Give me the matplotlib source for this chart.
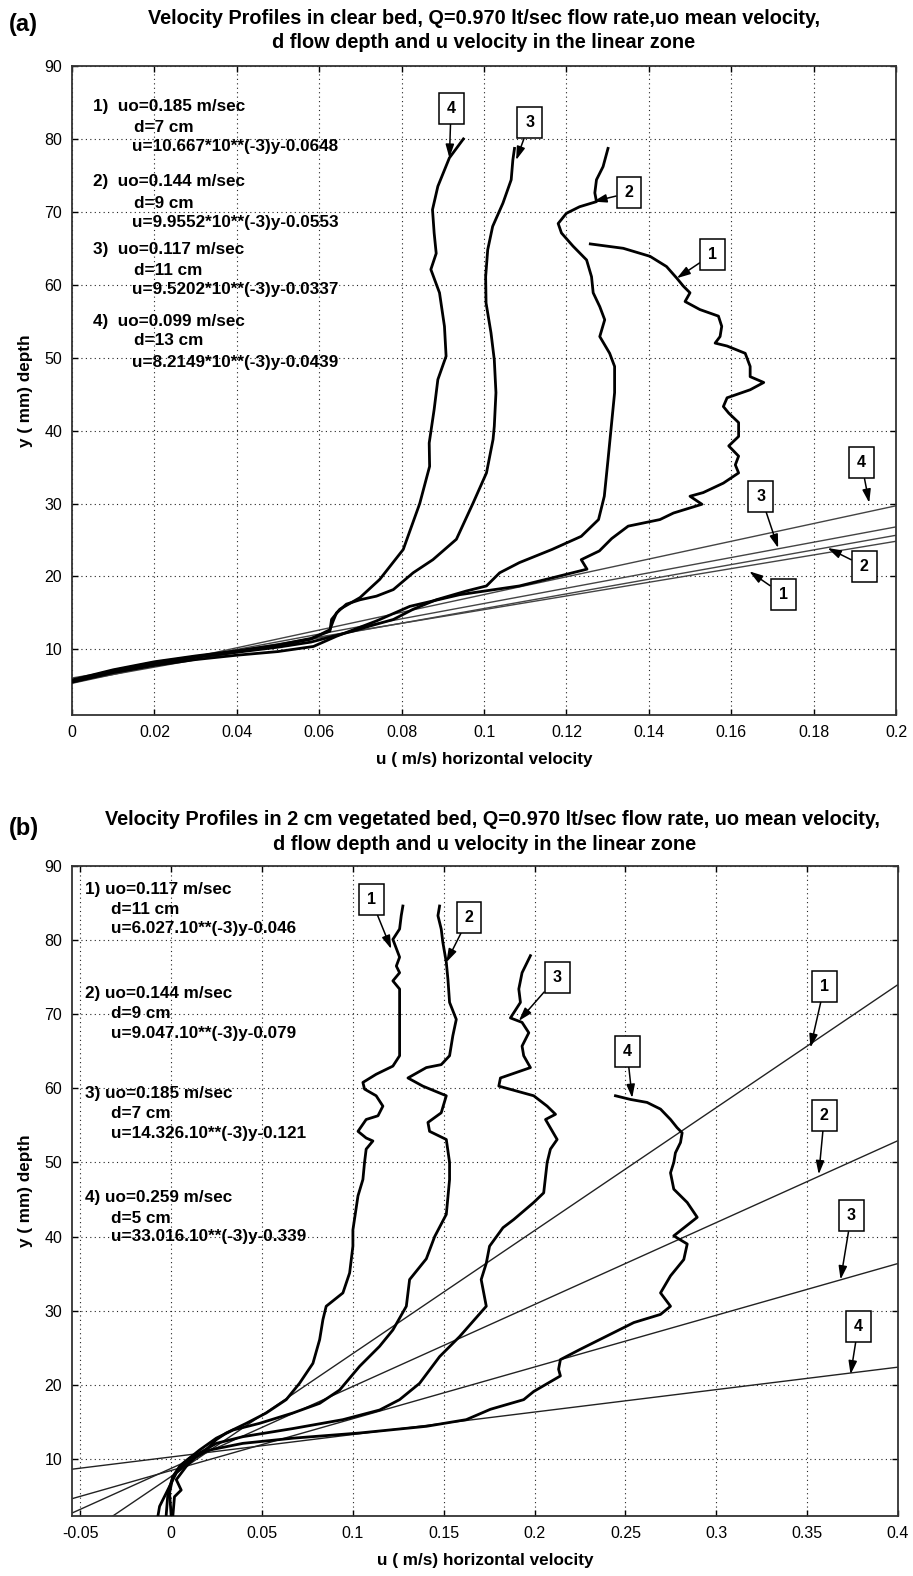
import numpy as np
import matplotlib
matplotlib.use("Agg")
import matplotlib.pyplot as plt

plt.rcParams['font.family'] = ['Liberation Sans', 'DejaVu Sans']

W, H = 913, 1576

# ---- panel (a): clear bed ----
a_u1 = [0.000, 0.010, 0.020, 0.030, 0.040, 0.050, 0.0586, 0.0642, 0.0739, 0.082, 0.0941, 0.1086, 0.1165,
        0.125, 0.1236, 0.128, 0.131, 0.135, 0.1427, 0.146, 0.1529, 0.150, 0.1532, 0.1581, 0.1618, 0.161,
        0.1618, 0.1594, 0.1618, 0.1618, 0.1594, 0.1581, 0.159, 0.1646, 0.1679, 0.1646, 0.1646, 0.1634,
        0.159, 0.1561, 0.1573, 0.1577, 0.1569, 0.1524, 0.1488, 0.150, 0.1484, 0.1468, 0.1443, 0.1403,
        0.1338, 0.1258]
a_y1 = [5.5, 6.8, 7.8, 8.6, 9.2, 9.7, 10.4, 11.8, 13.9, 15.9, 17.5, 18.7, 19.8,
        21.0, 22.3, 23.5, 25.2, 26.9, 27.8, 28.7, 29.9, 31.0, 31.5, 32.8, 34.2, 35.3,
        36.5, 37.9, 39.2, 41.1, 42.4, 43.3, 44.5, 45.6, 46.6, 47.4, 48.8, 50.6,
        51.6, 52.0, 52.9, 54.3, 55.7, 56.6, 57.7, 58.9, 59.8, 60.9, 62.5, 63.9,
        65.0, 65.6]

a_u2 = [0.000, 0.010, 0.020, 0.030, 0.040, 0.050, 0.058, 0.0634, 0.0682, 0.0723, 0.078, 0.0828, 0.0884,
        0.0957, 0.1006, 0.1038, 0.1086, 0.1165, 0.1236, 0.1278, 0.1292, 0.1301, 0.1309, 0.1317, 0.1317,
        0.1305, 0.1281, 0.1293, 0.1281, 0.1265, 0.1261, 0.1249, 0.1216, 0.1188, 0.118, 0.120, 0.1232,
        0.1273, 0.1269, 0.1273, 0.1289, 0.1301]
a_y2 = [5.6, 7.0, 8.1, 8.9, 9.6, 10.3, 11.0, 11.8, 12.5, 13.2, 14.1, 15.5, 16.8,
        18.0, 18.7, 20.5, 21.9, 23.7, 25.5, 27.8, 31.0, 36.0, 40.6, 45.2, 48.8,
        50.6, 52.9, 55.2, 57.0, 58.9, 61.1, 63.4, 65.3, 67.1, 68.4, 69.8, 70.7,
        71.4, 72.6, 74.4, 76.2, 78.7]

a_u3 = [0.000, 0.010, 0.020, 0.030, 0.040, 0.050, 0.058, 0.0626, 0.0634, 0.0642, 0.0666, 0.0699, 0.0739,
        0.078, 0.0828, 0.0876, 0.0933, 0.0973, 0.1006, 0.1022, 0.1025, 0.1029, 0.1025, 0.1017, 0.1005,
        0.1004, 0.1009, 0.1021, 0.1046, 0.1066, 0.107, 0.1074]
a_y3 = [5.7, 7.1, 8.2, 9.0, 9.7, 10.5, 11.4, 12.7, 13.9, 15.0, 16.2, 16.8, 17.3,
        18.2, 20.5, 22.3, 25.1, 30.0, 34.2, 38.8, 40.6, 45.2, 49.7, 53.4, 57.5,
        61.1, 64.8, 68.0, 71.2, 74.4, 77.1, 78.7]

a_u4 = [0.000, 0.010, 0.020, 0.030, 0.040, 0.050, 0.058, 0.0626, 0.063, 0.065, 0.0699, 0.0747, 0.0804,
        0.0844, 0.0868, 0.0867, 0.0879, 0.0888, 0.0908, 0.0904, 0.0892, 0.0871, 0.0884, 0.0879, 0.0875,
        0.0888, 0.0916, 0.095]
a_y4 = [5.8, 7.2, 8.3, 9.1, 9.8, 10.6, 11.5, 12.5, 14.1, 15.5, 17.1, 19.6, 23.7,
        30.0, 35.1, 38.3, 42.9, 47.0, 50.2, 54.3, 58.9, 62.1, 64.3, 67.1, 70.3,
        73.5, 77.4, 80.0]

# linear fits u = a*y - b (line 3 intercept)
a_slope = [10.667e-3, 9.9552e-3, 9.5202e-3, 8.2149e-3]
a_icpt = [0.0648, 0.0553, 0.0551, 0.0439]

a_notes = [["1)  uo=0.185 m/sec", "d=7 cm", "u=10.667*10**(-3)y-0.0648"],
           ["2)  uo=0.144 m/sec", "d=9 cm", "u=9.9552*10**(-3)y-0.0553"],
           ["3)  uo=0.117 m/sec", "d=11 cm", "u=9.5202*10**(-3)y-0.0337"],
           ["4)  uo=0.099 m/sec", "d=13 cm", "u=8.2149*10**(-3)y-0.0439"]]
a_note_y = [[84.4, 81.6, 78.9], [74.1, 71.2, 68.6], [64.8, 62.0, 59.3], [55.0, 52.3, 49.4]]

# ---- panel (b): 2 cm vegetated bed ----
b_u1 = [-0.0073, -0.0064, -0.0009, 0.0028, 0.0083, 0.0174, 0.0248, 0.0303, 0.0413, 0.0523, 0.0633, 0.0706,
        0.078, 0.0817, 0.0835, 0.0853, 0.0945, 0.0982, 0.1000, 0.1000, 0.1028, 0.1055, 0.1064, 0.1073,
        0.1110, 0.1073, 0.1028, 0.1073, 0.1138, 0.1165, 0.1128, 0.1064, 0.1055, 0.1128, 0.122, 0.1257,
        0.1257, 0.1257, 0.1257, 0.122, 0.1257, 0.1239, 0.1257, 0.122, 0.1257, 0.1266, 0.1275]
b_y1 = [2.3, 3.6, 6.3, 8.1, 9.4, 10.8, 12.6, 13.5, 14.8, 16.2, 18.0, 20.2,
        22.9, 26.1, 28.8, 30.6, 32.4, 35.1, 38.7, 40.9, 45.5, 47.7, 50.0, 51.8,
        52.9, 53.3, 54.2, 55.8, 56.3, 57.6, 59.0, 59.9, 60.8, 61.9, 63.0, 64.4,
        68.0, 71.6, 73.4, 74.5, 75.6, 76.5, 77.7, 80.1, 81.5, 83.3, 84.6]

b_u2 = [-0.0028, -0.0018, 0.0009, 0.0064, 0.0156, 0.0248, 0.034, 0.0486, 0.067, 0.0817, 0.0927, 0.1037,
        0.1147, 0.122, 0.1294, 0.1312, 0.1404, 0.1450, 0.1514, 0.1532, 0.1532, 0.1514, 0.1422, 0.1413,
        0.1486, 0.1514, 0.1385, 0.1303, 0.1404, 0.1486, 0.1532, 0.155, 0.1569, 0.1532, 0.1523, 0.1514,
        0.1495, 0.1486, 0.1468, 0.1477]
b_y2 = [2.3, 5.4, 7.6, 9.4, 11.2, 12.8, 13.9, 14.8, 16.2, 17.5, 19.3, 22.5,
        25.2, 27.4, 30.6, 34.2, 37.0, 40.0, 43.0, 47.7, 50.0, 53.1, 54.2, 55.4,
        56.7, 59.0, 60.3, 61.4, 62.8, 63.2, 64.4, 67.1, 69.3, 71.6, 74.7, 77.0,
        79.7, 81.5, 83.3, 84.6]

b_u3 = [0.0009, 0.0018, 0.0055, 0.0028, 0.0083, 0.0156, 0.0248, 0.0394, 0.067, 0.0945, 0.1147, 0.1257,
        0.1367, 0.1477, 0.1587, 0.1734, 0.1706, 0.1734, 0.1752, 0.1826, 0.1885, 0.1995, 0.205, 0.2069,
        0.2087, 0.2124, 0.206, 0.2115, 0.2069, 0.1995, 0.1803, 0.1812, 0.1977, 0.194, 0.1931, 0.1968,
        0.1931, 0.1867, 0.1922, 0.1913, 0.1931, 0.1977]
b_y3 = [2.3, 4.9, 5.8, 7.2, 9.0, 10.8, 12.1, 13.0, 14.1, 15.3, 16.6, 18.0,
        20.2, 23.8, 26.5, 30.6, 34.2, 36.4, 38.7, 41.2, 42.3, 44.6, 45.9, 50.0,
        51.8, 53.1, 55.8, 56.5, 57.6, 59.0, 60.3, 61.4, 62.8, 64.4, 65.7, 67.5,
        68.9, 69.5, 71.6, 73.4, 75.6, 77.9]

b_u4 = [0.0, -0.0009, 0.0009, 0.0046, 0.0101, 0.0211, 0.0394, 0.067, 0.1037, 0.1404, 0.1624, 0.1757,
        0.194, 0.1995, 0.2142, 0.2132, 0.2142, 0.2252, 0.2399, 0.2546, 0.2693, 0.2748, 0.2693, 0.2748,
        0.2821, 0.284, 0.2766, 0.2895, 0.284, 0.2766, 0.2748, 0.2766, 0.2775, 0.2803, 0.2812, 0.2784,
        0.2748, 0.2693, 0.2619, 0.2528, 0.2445]
b_y4 = [2.3, 5.4, 7.6, 9.0, 10.1, 11.2, 12.1, 12.8, 13.5, 14.4, 15.3, 16.7,
        18.0, 19.1, 21.2, 22.1, 23.4, 24.8, 26.6, 28.4, 29.5, 30.6, 32.4, 34.7,
        36.9, 39.0, 40.1, 42.6, 44.6, 46.4, 48.6, 50.0, 51.3, 52.7, 54.0, 54.7,
        55.8, 57.2, 58.1, 58.5, 59.0]

b_slope = [6.027e-3, 9.047e-3, 14.326e-3, 33.016e-3]
b_icpt = [0.046, 0.079, 0.121, 0.339]

b_notes = [["1) uo=0.117 m/sec", "d=11 cm", "u=6.027.10**(-3)y-0.046"],
           ["2) uo=0.144 m/sec", "d=9 cm", "u=9.047.10**(-3)y-0.079"],
           ["3) uo=0.185 m/sec", "d=7 cm", "u=14.326.10**(-3)y-0.121"],
           ["4) uo=0.259 m/sec", "d=5 cm", "u=33.016.10**(-3)y-0.339"]]
b_note_y = [[86.8, 84.1, 81.5], [72.8, 70.1, 67.4], [59.3, 56.6, 53.9], [45.3, 42.5, 40.0]]


def fx(px):
    return px / W


def fy(py):
    return 1 - py / H


def style_axes(ax, xlim, ylim, xticks, xtl):
    ax.set_xlim(*xlim)
    ax.set_ylim(*ylim)
    ax.set_xticks(xticks)
    ax.set_xticklabels(xtl)
    ax.set_yticks(np.arange(10, 91, 10))
    ax.grid(True, linestyle=(0, (1, 3)), color='#222222', linewidth=0.8)
    ax.tick_params(direction='in', top=True, right=True, length=4, width=1, labelsize=11.5, pad=7)
    for s in ax.spines.values():
        s.set_linewidth(1.3)
        s.set_color('#333333')
    ax.set_ylabel("y ( mm) depth", fontsize=12.3, fontweight='bold', labelpad=8)
    ax.set_xlabel("u ( m/s) horizontal velocity", fontsize=12.3, fontweight='bold', labelpad=9)


def box_label(ax, txt, box, tip):
    ax.annotate(txt, xy=tip, xytext=box, ha='center', va='center', fontsize=11.5, fontweight='bold',
                bbox=dict(boxstyle='square,pad=0.5', fc='white', ec='black', lw=1.1),
                arrowprops=dict(arrowstyle='-|>,head_length=0.7,head_width=0.22', color='black',
                                lw=1.1, shrinkA=0, shrinkB=0), zorder=5)


fig = plt.figure(figsize=(W / 100, H / 100), dpi=100)

# ---------------- (a) ----------------
ax1 = fig.add_axes([fx(72), fy(715), fx(896 - 72), (715 - 66) / H])
style_axes(ax1, (0, 0.2), (1, 90), np.arange(0, 0.201, 0.02),
           ['0', '0.02', '0.04', '0.06', '0.08', '0.1', '0.12', '0.14', '0.16', '0.18', '0.2'])
uu = np.array([0.0, 0.2])
for a, b in zip(a_slope, a_icpt):
    ax1.plot(uu, (uu + b) / a, color='#444444', lw=1.0, zorder=2)
for u, y in [(a_u1, a_y1), (a_u2, a_y2), (a_u3, a_y3), (a_u4, a_y4)]:
    ax1.plot(u, y, color='black', lw=2.0, zorder=3)
for lines, ys in zip(a_notes, a_note_y):
    ax1.text(0.0050, ys[0], lines[0], fontsize=12.3, fontweight='bold', va='center')
    ax1.text(0.0150, ys[1], lines[1], fontsize=12.3, fontweight='bold', va='center')
    ax1.text(0.0145, ys[2], lines[2], fontsize=12.3, fontweight='bold', va='center')
box_label(ax1, '4', (0.092, 84.2), (0.0916, 77.4))
box_label(ax1, '3', (0.1111, 82.2), (0.1078, 77.1))
box_label(ax1, '2', (0.1352, 72.6), (0.1265, 71.4))
box_label(ax1, '1', (0.1555, 64.2), (0.1468, 60.9))
box_label(ax1, '4', (0.1916, 35.6), (0.1935, 30.1))
box_label(ax1, '3', (0.1672, 31.0), (0.1714, 23.9))
box_label(ax1, '2', (0.1923, 21.4), (0.1834, 23.9))
box_label(ax1, '1', (0.1726, 17.5), (0.1644, 20.7))

fig.text(fx(9), fy(24), "(a)", fontsize=17, fontweight='bold', va='center', ha='left')
fig.text(fx(484), fy(18), "Velocity Profiles in clear bed, Q=0.970 lt/sec flow rate,uo mean velocity,",
         fontsize=14.3, fontweight='bold', ha='center', va='center')
fig.text(fx(484), fy(43), "d flow depth and u velocity in the linear zone",
         fontsize=14.3, fontweight='bold', ha='center', va='center')

# ---------------- (b) ----------------
ax2 = fig.add_axes([fx(72), fy(1516), fx(898 - 72), (1516 - 866) / H])
style_axes(ax2, (-0.0546, 0.4), (2.3, 90), np.arange(-0.05, 0.401, 0.05),
           ['-0.05', '0', '0.05', '0.1', '0.15', '0.2', '0.25', '0.3', '0.35', '0.4'])
uu = np.array([-0.0546, 0.4])
for a, b in zip(b_slope, b_icpt):
    ax2.plot(uu, (uu + b) / a, color='#222222', lw=1.0, zorder=2)
for u, y in [(b_u1, b_y1), (b_u2, b_y2), (b_u3, b_y3), (b_u4, b_y4)]:
    ax2.plot(u, y, color='black', lw=2.0, zorder=3)
for lines, ys in zip(b_notes, b_note_y):
    ax2.text(-0.0475, ys[0], lines[0], fontsize=12.3, fontweight='bold', va='center')
    ax2.text(-0.0330, ys[1], lines[1], fontsize=12.3, fontweight='bold', va='center')
    ax2.text(-0.0330, ys[2], lines[2], fontsize=12.3, fontweight='bold', va='center')
box_label(ax2, '1', (0.110, 85.5), (0.1211, 78.8))
box_label(ax2, '2', (0.1639, 83.1), (0.1514, 77.0))
box_label(ax2, '3', (0.2124, 75.0), (0.1913, 69.1))
box_label(ax2, '4', (0.2509, 65.0), (0.2537, 58.7))
box_label(ax2, '1', (0.3595, 73.8), (0.3518, 65.5))
box_label(ax2, '2', (0.3595, 56.4), (0.3564, 48.4))
box_label(ax2, '3', (0.3742, 42.8), (0.3684, 34.2))
box_label(ax2, '4', (0.3781, 27.9), (0.3739, 21.4))

fig.text(fx(9), fy(828), "(b)", fontsize=17, fontweight='bold', va='center', ha='left')
fig.text(fx(492), fy(820), "Velocity Profiles in 2 cm vegetated bed, Q=0.970 lt/sec flow rate, uo mean velocity,",
         fontsize=14.3, fontweight='bold', ha='center', va='center')
fig.text(fx(485), fy(844), "d flow depth and u velocity in the linear zone",
         fontsize=14.3, fontweight='bold', ha='center', va='center')

fig.savefig("out.png", dpi=100)
